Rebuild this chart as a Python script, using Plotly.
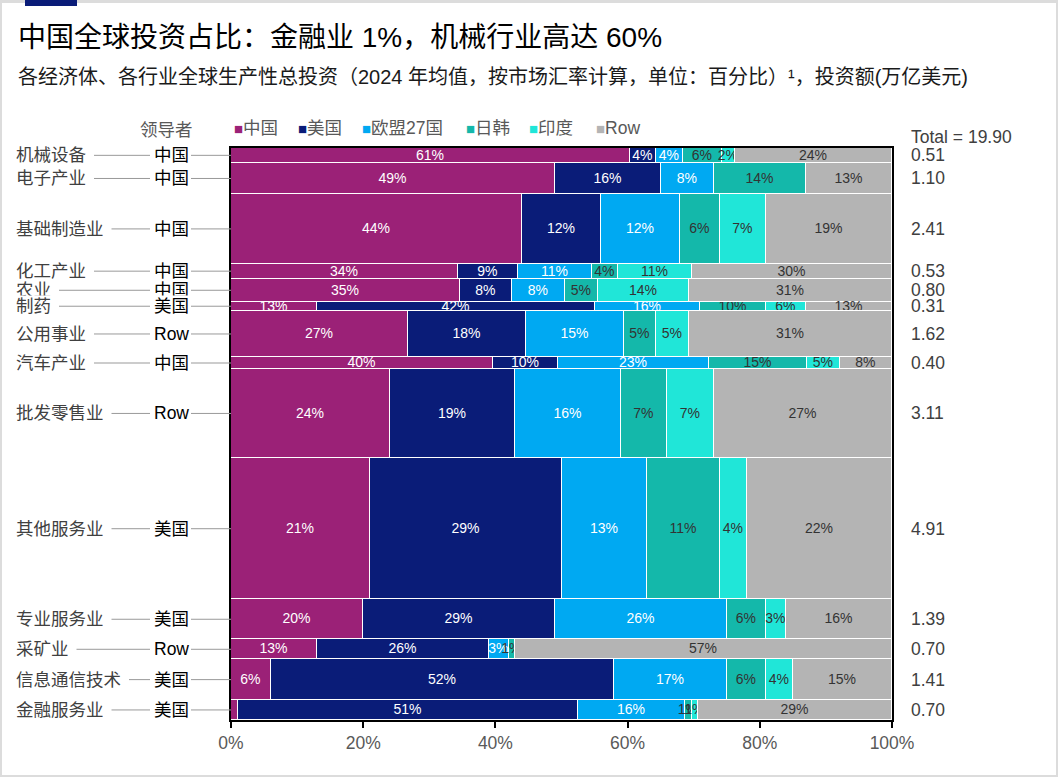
import plotly.graph_objects as go
import numpy as np

# Sectors (top to bottom), leading economy, total investment (trillion USD)
sectors = ["机械设备", "电子产业", "基础制造业", "化工产业", "农业", "制药", "公用事业",
           "汽车产业", "批发零售业", "其他服务业", "专业服务业", "采矿业", "信息通信技术", "金融服务业"]
leaders = ["中国", "中国", "中国", "中国", "中国", "美国", "Row",
           "中国", "Row", "美国", "美国", "Row", "美国", "美国"]
totals = [0.51, 1.10, 2.41, 0.53, 0.80, 0.31, 1.62, 0.40, 3.11, 4.91, 1.39, 0.70, 1.41, 0.70]
grand_total = "19.90"

# Share of each economy (%), same order as sectors
china = [61, 49, 44, 34, 35, 13, 27, 40, 24, 21, 20, 13, 6, 1]
usa = [4, 16, 12, 9, 8, 42, 18, 10, 19, 29, 29, 26, 52, 51]
eu27 = [4, 8, 12, 11, 8, 16, 15, 23, 16, 13, 26, 3, 17, 16]
japan_korea = [6, 14, 6, 4, 5, 10, 5, 15, 7, 11, 6, 1, 6, 1]
india = [2, 0, 7, 11, 14, 6, 5, 5, 7, 4, 3, 0, 4, 1]
rest_of_world = [24, 13, 19, 30, 31, 13, 31, 8, 27, 22, 16, 57, 15, 29]

x_ticks = [0, 20, 40, 60, 80, 100]
x_tick_labels = ["0%", "20%", "40%", "60%", "80%", "100%"]

series = [
    ("中国", china, "#9B2177", "white"),
    ("美国", usa, "#0A1C78", "white"),
    ("欧盟27国", eu27, "#00A9F2", "white"),
    ("日韩", japan_korea, "#14B8AA", "#333333"),
    ("印度", india, "#20E6D8", "#333333"),
    ("Row", rest_of_world, "#B4B4B4", "#333333"),
]

FONT = "Liberation Sans, Arial, Noto Sans CJK SC, sans-serif"
W, H = 1058, 777
L, R, T, B = 231, 166, 148, 57
PW, PH = W - L - R, H - T - B


def px_x(px):
    return (px - L) / PW


def px_y(py):
    return (H - B - py) / PH


totals_arr = np.array(totals)
mids = np.cumsum(totals_arr) - totals_arr / 2

fig = go.Figure()

for name, vals, color, tcolor in series:
    labels = []
    for s, v in zip(sectors, vals):
        # the 1% China slice in finance is too thin to carry a label
        if v == 0 or (s == "金融服务业" and name == "中国"):
            labels.append("")
        else:
            labels.append(f"{v}%")
    fig.add_trace(go.Bar(
        name=name,
        orientation="h",
        y=mids,
        x=vals,
        width=totals,
        text=labels,
        textposition="inside",
        insidetextanchor="middle",
        constraintext="none",
        textangle=0,
        textfont=dict(family=FONT, size=14, color=tcolor),
        marker=dict(color=color, line=dict(color="white", width=1.2)),
        showlegend=False,
        hoverinfo="skip",
    ))

annotations = []
shapes = []

# card frame and the small navy bar at the top
shapes.append(dict(type="rect", xref="paper", yref="paper", layer="below",
                   x0=px_x(2), x1=px_x(1056), y0=px_y(775), y1=px_y(3),
                   fillcolor="white", line=dict(width=0)))
shapes.append(dict(type="rect", xref="paper", yref="paper",
                   x0=px_x(25), x1=px_x(77), y0=px_y(6), y1=px_y(0),
                   fillcolor="#0A1C78", line=dict(width=0)))

# title + subtitle
annotations.append(dict(text="中国全球投资占比：金融业 1%，机械行业高达 60%",
                        xref="paper", yref="paper", x=px_x(16), y=px_y(37),
                        xanchor="left", yanchor="middle", showarrow=False,
                        font=dict(family=FONT, size=28, color="#000000")))
annotations.append(dict(text="各经济体、各行业全球生产性总投资（2024 年均值，按市场汇率计算，单位：百分比）¹，投资额(万亿美元)",
                        xref="paper", yref="paper", x=px_x(16), y=px_y(77),
                        xanchor="left", yanchor="middle", showarrow=False,
                        font=dict(family=FONT, size=20, color="#1a1a1a")))

# legend header and legend items
annotations.append(dict(text="领导者", xref="paper", yref="paper", x=px_x(166), y=px_y(130),
                        xanchor="center", yanchor="middle", showarrow=False,
                        font=dict(family=FONT, size=17.5, color="#595959")))
legend_x = [232, 296, 360, 464, 527, 594]
for (name, vals, color, tcolor), lx in zip(series, legend_x):
    annotations.append(dict(
        text=f'<span style="color:{color};font-size:15px">■</span>{name}',
        xref="paper", yref="paper", x=px_x(lx), y=px_y(128),
        xanchor="left", yanchor="middle", showarrow=False,
        font=dict(family=FONT, size=17.5, color="#595959")))

annotations.append(dict(text=f"Total = {grand_total}", xref="paper", yref="paper",
                        x=px_x(909), y=px_y(137), xanchor="left", yanchor="middle",
                        showarrow=False, font=dict(family=FONT, size=17.5, color="#404040")))

# row labels: sector name ---- leader ---- axis, totals on the right
for s, ld, t, m in zip(sectors, leaders, totals, mids):
    name_end = 16 + 17.5 * len(s)
    shapes.append(dict(type="line", xref="paper", yref="y",
                       x0=px_x(name_end + 8), x1=px_x(150), y0=m, y1=m,
                       line=dict(color="#999999", width=1)))
    shapes.append(dict(type="line", xref="paper", yref="y",
                       x0=px_x(191), x1=px_x(231), y0=m, y1=m,
                       line=dict(color="#999999", width=1)))
    annotations.append(dict(text=s, xref="paper", yref="y", x=px_x(15), y=m,
                            xanchor="left", yanchor="middle", showarrow=False,
                            bgcolor="white", borderpad=0,
                            font=dict(family=FONT, size=17.5, color="#404040")))
    annotations.append(dict(text=ld, xref="paper", yref="y", x=px_x(171), y=m,
                            xanchor="center", yanchor="middle", showarrow=False,
                            bgcolor="white", borderpad=0,
                            font=dict(family=FONT, size=17.5, color="#000000")))
    annotations.append(dict(text=f"{t:.2f}", xref="paper", yref="y", x=px_x(909), y=m,
                            xanchor="left", yanchor="middle", showarrow=False,
                            font=dict(family=FONT, size=17.5, color="#404040")))

fig.update_layout(
    width=W,
    height=H,
    barmode="stack",
    barnorm="percent",
    bargap=0,
    margin=dict(l=L, r=R, t=T, b=B, autoexpand=False),
    paper_bgcolor="#DCDCDC",
    plot_bgcolor="white",
    font=dict(family=FONT),
    annotations=annotations,
    shapes=shapes,
    uniformtext=dict(mode="show", minsize=14),
)

fig.update_xaxes(
    range=[0, 100],
    tickmode="array",
    tickvals=x_ticks,
    ticktext=x_tick_labels,
    ticks="outside",
    ticklen=6,
    tickwidth=1.5,
    tickcolor="black",
    showgrid=False,
    zeroline=False,
    showline=True,
    linecolor="black",
    linewidth=2,
    mirror=True,
    tickfont=dict(family=FONT, size=17.5, color="#595959"),
)

fig.update_yaxes(
    range=[sum(totals), 0],
    showticklabels=False,
    ticks="",
    showgrid=False,
    zeroline=False,
    showline=True,
    linecolor="black",
    linewidth=2,
    mirror=True,
)

# the page's default body margin would push the figure 8px off the corner
fig.write_html("out.html", config={"displayModeBar": False},
               post_script="document.body.style.margin = '0';")
